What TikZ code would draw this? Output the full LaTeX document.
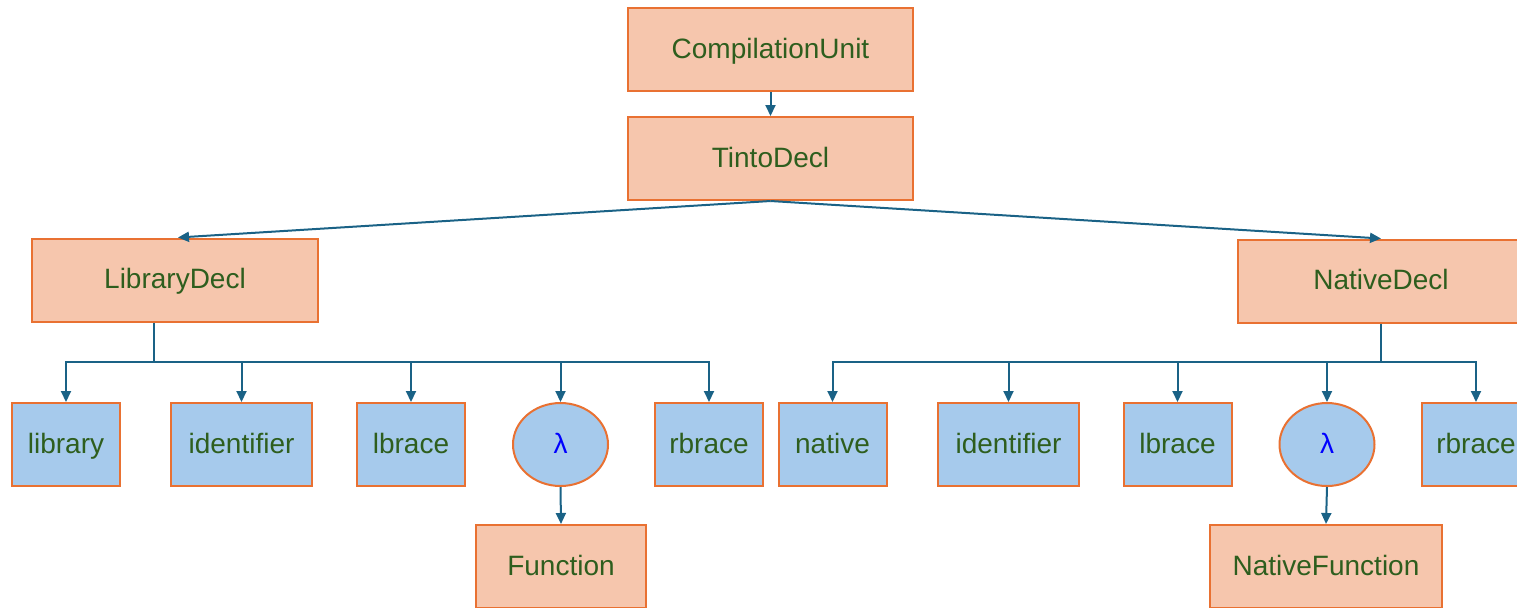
\documentclass[tikz,border=0pt]{standalone}
\usepackage{fontspec}
\setmainfont{Liberation Sans}
\usetikzlibrary{arrows.meta,shapes.geometric}
\definecolor{peach}{HTML}{F6C6AD}
\definecolor{edge}{HTML}{E97132}
\definecolor{sky}{HTML}{A6CAEC}
\definecolor{leaf}{HTML}{2E5E1E}
\definecolor{wire}{HTML}{1A6286}
\tikzset{
  base/.style={draw=edge, line width=1pt, inner sep=0pt, font=\fontsize{14}{16}\selectfont, text=leaf,
    text height=11pt, text depth=2.2pt, minimum height=41.5pt},
  rule/.style={base, rectangle, fill=peach},
  token/.style={base, rectangle, fill=sky, minimum width=54pt},
  lam/.style={base, ellipse, fill=sky, minimum width=47.5pt, text=blue},
  conn/.style={draw=wire, line width=1pt},
  arr/.style={conn, -{Triangle[length=5.5pt,width=5pt]}}
}
\begin{document}
\begin{tikzpicture}[x=0.5pt,y=-0.5pt]
\useasboundingbox (0,0) rectangle (1517,607);

% grammar rules
\node[rule, minimum width=142.5pt] (cu) at (770.5,49.5) {CompilationUnit};
\node[rule, minimum width=142.5pt] (tinto) at (770.5,158.5) {TintoDecl};
\node[rule, minimum width=143pt] (lib) at (175,280) {LibraryDecl};
\node[rule, minimum width=143pt] (nat) at (1381,281) {NativeDecl};

% library branch tokens
\node[token] (t1) at (66,444.5) {library};
\node[token, minimum width=70.5pt] (t2) at (241.5,444.5) {identifier};
\node[token] (t3) at (411,444.5) {lbrace};
\node[lam] (l1) at (560.5,444.5) {λ};
\node[token] (t5) at (709,444.5) {rbrace};
\node[rule, minimum width=85pt] (fn) at (561,566.5) {Function};

% native branch tokens
\node[token] (u1) at (832.5,444.5) {native};
\node[token, minimum width=70.5pt] (u2) at (1008.5,444.5) {identifier};
\node[token] (u3) at (1177.5,444.5) {lbrace};
\node[lam] (l2) at (1327,444.5) {λ};
\node[token] (u5) at (1476,444.5) {rbrace};
\node[rule, minimum width=116pt] (nfn) at (1326,566.5) {NativeFunction};

% connectors
\draw[arr] (cu.south) -- (tinto.north);
\draw[arr] (tinto.south) -- ([xshift=1.5pt]lib.north);
\draw[arr] (tinto.south) -- (nat.north);

\coordinate (lbus) at (154,362);
\draw[conn] ([xshift=-10.5pt]lib.south) -- (lbus);
\foreach \c in {t1,t2,t3,l1,t5} \draw[arr] (lbus) -| (\c.north);

\coordinate (nbus) at (1381,362);
\draw[conn] (nat.south) -- (nbus);
\foreach \c in {u1,u2,u3,l2,u5} \draw[arr] (nbus) -| (\c.north);

\draw[arr] (l1.south) -- (fn.north);
\draw[arr] (l2.south) -- (nfn.north);
\end{tikzpicture}
\end{document}
